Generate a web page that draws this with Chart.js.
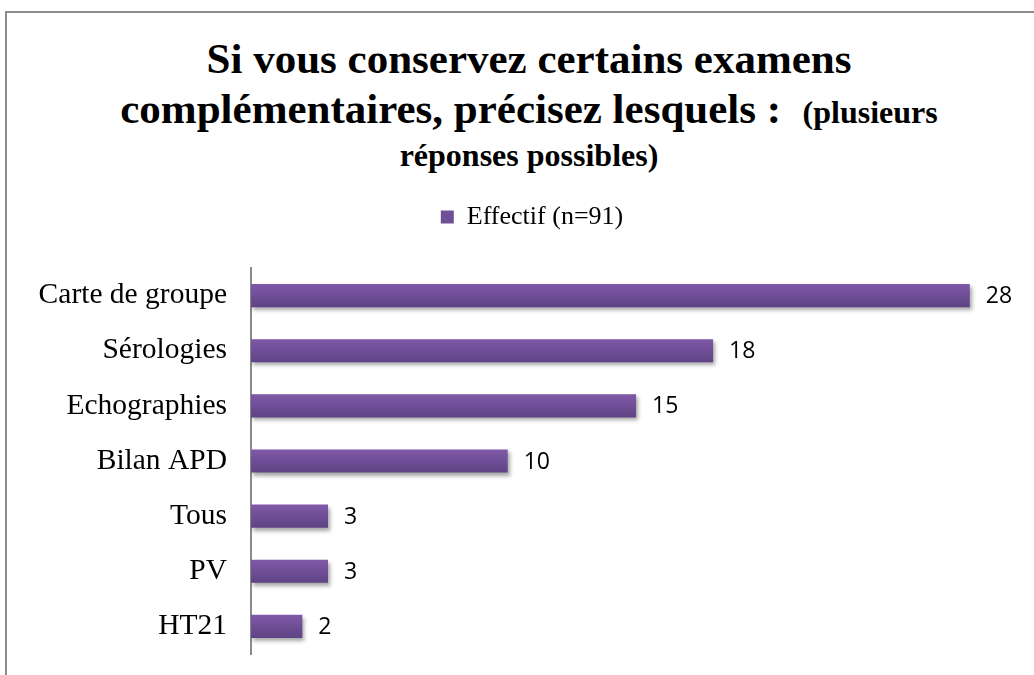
<!DOCTYPE html>
<html>
<head>
<meta charset="utf-8">
<script src="https://cdn.jsdelivr.net/npm/chart.js@4/dist/chart.umd.min.js"></script>
<style>
  html, body { margin: 0; padding: 0; background: #fff; overflow: hidden; }
  #wrap { position: relative; width: 1034px; height: 675px; overflow: hidden; }
  #frame { position: absolute; left: 5px; top: 11px; right: 0; bottom: 0; border-left: 2px solid #8c8c8c; border-top: 2px solid #8c8c8c; }
  .t { position: absolute; left: 0; width: 1058px; text-align: center; font-family: "Liberation Serif", "Times New Roman", serif; font-weight: bold; color: #000; white-space: nowrap; }
  #t1 { top: 34px; font-size: 43px; line-height: 50px; }
  #t2 { top: 84px; font-size: 43px; line-height: 50px; }
  #t3 { top: 133px; font-size: 32px; line-height: 44px; }
  .small { font-size: 32px; }
  #myChart { position: absolute; left: 0; top: 0; width: 1034px; height: 675px; }
</style>
</head>
<body>
<div id="wrap">
  <div id="frame"></div>
  <div class="t" id="t1">Si vous conservez certains examens</div>
  <div class="t" id="t2">complémentaires, précisez lesquels :&nbsp; <span class="small">(plusieurs</span></div>
  <div class="t" id="t3">réponses possibles)</div>
  <canvas id="myChart" width="1034" height="675"></canvas>
</div>
<script>
const categories = ['Carte de groupe', 'Sérologies', 'Echographies', 'Bilan APD', 'Tous', 'PV', 'HT21'];
const effectif = [28, 18, 15, 10, 3, 3, 2];
const seriesName = 'Effectif (n=91)';
const xMax = 30.5;

document.addEventListener('DOMContentLoaded', function () {
  const ctx = document.getElementById('myChart').getContext('2d');

  // push the plot down a bit under the legend
  const legendGap = {
    id: 'legendGap',
    beforeInit(chart) {
      const fit = chart.legend.fit;
      chart.legend.fit = function () {
        fit.bind(chart.legend)();
        this.height += 28;
      };
    }
  };

  // soft shadow under the bars
  const barShadow = {
    id: 'barShadow',
    beforeDatasetsDraw(chart) {
      const c = chart.ctx;
      c.save();
      c.shadowColor = 'rgba(0, 0, 0, 0.35)';
      c.shadowBlur = 4;
      c.shadowOffsetX = 2;
      c.shadowOffsetY = 3;
    },
    afterDatasetsDraw(chart) {
      chart.ctx.restore();
    }
  };

  // value labels at the end of each bar
  const valueLabels = {
    id: 'valueLabels',
    afterDatasetsDraw(chart) {
      const c = chart.ctx;
      const meta = chart.getDatasetMeta(0);
      c.save();
      c.font = '23px "Open Sans", sans-serif';
      c.fillStyle = '#000';
      c.textAlign = 'left';
      c.textBaseline = 'middle';
      meta.data.forEach(function (bar, i) {
        c.fillText(String(effectif[i]), bar.x + 16, bar.y + 1);
      });
      c.restore();
    }
  };

  const myChart = new Chart(ctx, {
    type: 'bar',
    data: {
      labels: categories,
      datasets: [{
        label: seriesName,
        data: effectif,
        backgroundColor: function (c) {
          const chart = c.chart;
          const y = chart.scales && chart.scales.y;
          if (!chart.chartArea || !y || c.dataIndex === undefined) return '#6e4f98';
          const cy = y.getPixelForValue(c.dataIndex);
          const g = chart.ctx.createLinearGradient(0, cy - 12, 0, cy + 12);
          g.addColorStop(0, '#8159a9');
          g.addColorStop(1, '#5d4383');
          return g;
        },
        borderWidth: 0,
        barPercentage: 0.42,
        categoryPercentage: 1
      }]
    },
    options: {
      indexAxis: 'y',
      responsive: false,
      animation: false,
      layout: { padding: { left: 30, right: 0, top: 194, bottom: 21 } },
      scales: {
        x: { display: false, min: 0, max: xMax },
        y: {
          // tick marks are hidden, their length only sets the label gap
          grid: { display: false, drawTicks: true, tickLength: 24 },
          border: { display: true, color: '#8a8a8a', width: 2 },
          ticks: {
            color: '#000',
            padding: 0,
            font: { family: '"Liberation Serif", "Times New Roman", serif', size: 29.5 }
          },
          afterFit: function (s) { s.width = 221; }
        }
      },
      plugins: {
        legend: {
          position: 'top',
          labels: {
            boxWidth: 13,
            boxHeight: 13,
            padding: 10,
            color: '#000',
            font: { family: '"Liberation Serif", "Times New Roman", serif', size: 26 },
            generateLabels: function (chart) {
              return [{ text: seriesName, fillStyle: '#6e4f98', strokeStyle: '#6e4f98', lineWidth: 0, datasetIndex: 0 }];
            }
          }
        },
        title: { display: false },
        tooltip: { enabled: false }
      }
    },
    plugins: [legendGap, barShadow, valueLabels]
  });
});
</script>
</body>
</html>
